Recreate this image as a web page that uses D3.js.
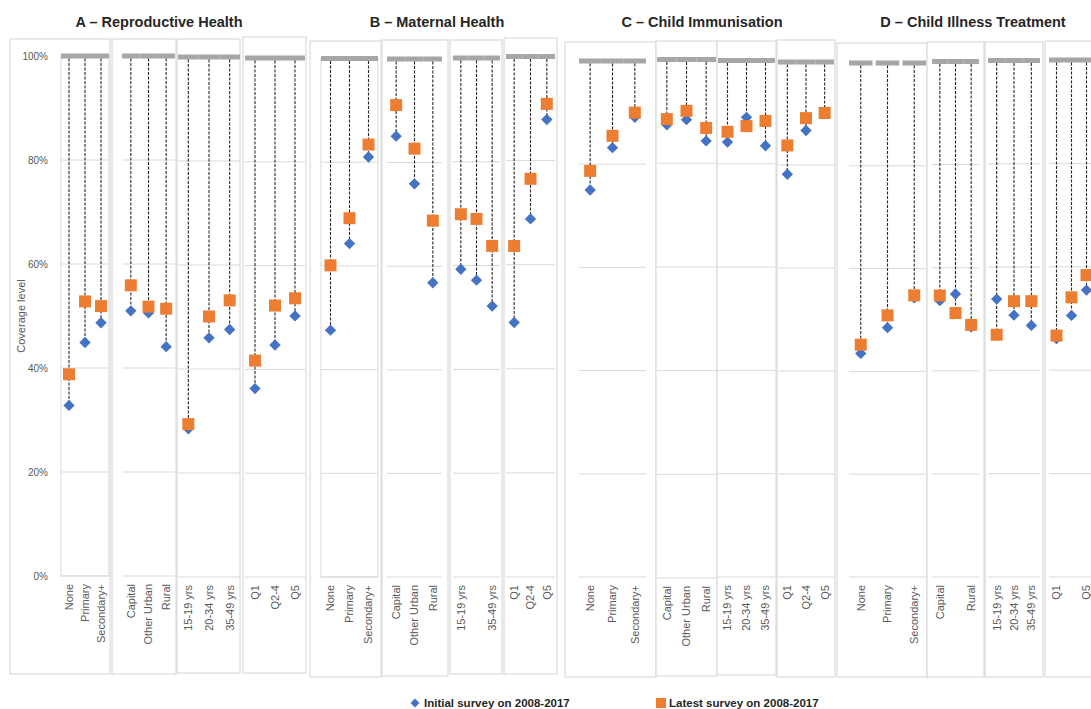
<!DOCTYPE html>
<html>
<head>
<meta charset="utf-8">
<script src="https://cdn.jsdelivr.net/npm/d3@7"></script>
<style>
  body { margin: 0; background: #fff; }
  svg text { font-family: "Liberation Sans", Arial, sans-serif; }
</style>
</head>
<body>
<svg id="chart" width="1091" height="709"></svg>
<script>
// categories of each small group
var education = ["None", "Primary", "Secondary+"];
var residence = ["Capital", "Other Urban", "Rural"];
var ageGroups = ["15-19 yrs", "20-34 yrs", "35-49 yrs"];
var wealth = ["Q1", "Q2-4", "Q5"];
var subgroups = [education, residence, ageGroups, wealth];

var panelTitles = [
  "A \u2013 Reproductive Health",
  "B \u2013 Maternal Health",
  "C \u2013 Child Immunisation",
  "D \u2013 Child Illness Treatment"
];

// coverage (%), order: education, residence, age, wealth
var initialA = [32.8, 44.9, 48.7, 51.0, 50.6, 44.1, 28.5, 46.0, 47.6, 36.3, 44.7, 50.3];
var latestA  = [38.8, 52.8, 51.9, 55.9, 51.8, 51.4, 29.4, 50.1, 53.2, 41.7, 52.3, 53.7];
var initialB = [47.6, 64.3, 81.0, 85.1, 75.9, 56.8, 59.3, 57.2, 52.2, 48.9, 68.8, 87.9];
var latestB  = [60.1, 69.2, 83.4, 91.1, 82.7, 68.8, 69.9, 69.0, 63.8, 63.6, 76.5, 90.9];
var initialC = [75.0, 83.2, 89.1, 87.4, 88.4, 84.3, 84.2, 89.0, 83.5, 78.2, 86.7, 90.0];
var latestC  = [78.7, 85.5, 90.0, 88.5, 90.1, 86.8, 86.2, 87.3, 88.3, 83.8, 89.1, 90.1];
var initialD = [43.5, 48.5, 54.3, 53.6, 54.9, 48.5, 53.8, 50.7, 48.7, 46.1, 50.6, 55.5];
var latestD  = [45.2, 50.9, 54.8, 54.6, 51.2, 48.9, 46.9, 53.4, 53.4, 46.7, 54.1, 58.4];

var initialAll = [initialA, initialB, initialC, initialD];
var latestAll = [latestA, latestB, latestC, latestD];

var benchmark = 100;
var yTicks = [0, 20, 40, 60, 80, 100];
// axis labels the original leaves out
var hiddenLabels = [[], ["20-34 yrs"], [], ["Other Urban", "Q2-4"]];

var legendLabels = ["Initial survey on  2008-2017", "Latest survey on  2008-2017"];

// layout of each small chart: box [x0,x1,top,bottom], plot [x0,x1], y [y0%, y100%]
var layout = [
  [
    { box: [10, 110, 39, 674], plot: [61, 109], y: [576, 56], frame: true },
    { box: [112, 176, 39, 674], plot: [122, 175], y: [576, 56] },
    { box: [177, 240, 39, 673], plot: [178, 240], y: [577, 57] },
    { box: [243, 306, 37, 673], plot: [245, 305], y: [577, 58] }
  ],
  [
    { box: [310, 381, 41, 677], plot: [321, 378], y: [577, 58.5], frame: true },
    { box: [382, 448, 40, 676], plot: [387, 442], y: [577, 59] },
    { box: [450, 502, 40, 674], plot: [453, 500], y: [577, 58] },
    { box: [504, 557, 38, 674], plot: [506, 555], y: [577, 56.5] }
  ],
  [
    { box: [565, 656, 42, 677], plot: [579, 646], y: [577, 61] },
    { box: [656, 717, 41, 676], plot: [657, 716], y: [578, 59.5] },
    { box: [717, 776, 41, 675], plot: [718, 775], y: [577, 60.5] },
    { box: [777, 835, 40, 677], plot: [778, 834], y: [577, 62] }
  ],
  [
    { box: [837, 927, 43, 677], plot: [849, 926], y: [577, 63], split: true },
    { box: [927, 984, 42, 677], plot: [932, 979], y: [577, 61.5] },
    { box: [985, 1043, 42, 677], plot: [988, 1040], y: [577, 60.5] },
    { box: [1045, 1100, 41, 677], plot: [1049, 1094], y: [577, 60] }
  ]
];
var titleX = [159, 437, 702, 973];

var blue = "#4472c4", orange = "#ed7d31";

var svg = d3.select("#chart");

var diamond = d3.symbol().type(d3.symbolSquare).size(64);
var square = d3.symbol().type(d3.symbolSquare).size(144);

panelTitles.forEach(function (title, p) {
  svg.append("text")
    .attr("x", titleX[p])
    .attr("y", 27)
    .attr("text-anchor", "middle")
    .style("font-size", "14.5px")
    .style("font-weight", "bold")
    .style("fill", "#262626")
    .text(title);

  layout[p].forEach(function (L, s) {
    var cats = subgroups[s];
    var g = svg.append("g");

    // outer box of each small chart
    g.append("rect")
      .attr("x", L.box[0]).attr("y", L.box[2])
      .attr("width", L.box[1] - L.box[0]).attr("height", L.box[3] - L.box[2])
      .attr("fill", "#fff")
      .attr("stroke", "#d4d4d4")
      .attr("stroke-width", 1);

    var x = d3.scaleBand().domain(cats).range(L.plot)
      .paddingInner(L.split ? 0.12 : 0).paddingOuter(0);
    var y = d3.scaleLinear().domain([0, 100]).range(L.y);
    var cx = function (c) { return x(c) + x.bandwidth() / 2; };

    // gridlines
    g.selectAll(".grid")
      .data(yTicks.filter(function (t) { return t < 100; }))
      .enter().append("line")
      .attr("x1", L.plot[0]).attr("x2", L.plot[1])
      .attr("y1", function (d) { return y(d); })
      .attr("y2", function (d) { return y(d); })
      .attr("stroke", "#d9d9d9").attr("stroke-width", 1);

    if (L.frame) {
      g.append("rect")
        .attr("x", L.plot[0]).attr("y", y(100))
        .attr("width", L.plot[1] - L.plot[0]).attr("height", y(0) - y(100))
        .attr("fill", "none").attr("stroke", "#d9d9d9");
    }

    var rows = cats.map(function (c, i) {
      return { cat: c, ini: initialAll[p][s * 3 + i], lat: latestAll[p][s * 3 + i] };
    });

    // 100% benchmark bar
    g.selectAll(".bench")
      .data(rows).enter().append("rect")
      .attr("x", function (d) { return x(d.cat); })
      .attr("width", x.bandwidth())
      .attr("y", y(benchmark) - 2.5)
      .attr("height", 5)
      .attr("fill", "#a6a6a6");

    // drop lines
    g.selectAll(".drop")
      .data(rows).enter().append("line")
      .attr("x1", function (d) { return cx(d.cat); })
      .attr("x2", function (d) { return cx(d.cat); })
      .attr("y1", y(benchmark) + 2.5)
      .attr("y2", function (d) { return y(Math.min(d.ini, d.lat)); })
      .attr("stroke", "#262626")
      .attr("stroke-width", 1.1)
      .attr("stroke-dasharray", "3,1.5");

    g.selectAll(".ini")
      .data(rows).enter().append("path")
      .attr("d", diamond)
      .attr("transform", function (d) {
        return "translate(" + cx(d.cat) + "," + y(d.ini) + ") rotate(45)";
      })
      .attr("fill", blue);

    g.selectAll(".lat")
      .data(rows).enter().append("path")
      .attr("d", square)
      .attr("transform", function (d) {
        return "translate(" + cx(d.cat) + "," + y(d.lat) + ")";
      })
      .attr("fill", orange);

    // category labels, rotated
    g.selectAll(".lbl")
      .data(cats.filter(function (c) { return hiddenLabels[p].indexOf(c) < 0; }))
      .enter().append("text")
      .attr("transform", function (c) {
        return "translate(" + cx(c) + "," + (y(0) + 8) + ") rotate(-90)";
      })
      .attr("dy", "0.35em")
      .attr("text-anchor", "end")
      .style("font-size", "11px")
      .style("fill", "#595959")
      .text(function (c) { return c; });

    // y axis only on the first chart
    if (p === 0 && s === 0) {
      var ax = g.append("g")
        .attr("transform", "translate(" + L.plot[0] + ",0)")
        .call(d3.axisLeft(y).tickValues(yTicks)
          .tickFormat(function (d) { return d + "%"; })
          .tickSize(0).tickPadding(13));
      ax.select(".domain").remove();
      ax.selectAll("text")
        .style("font-size", "10px")
        .style("fill", "#595959")
        .style("font-family", "'Liberation Sans', Arial, sans-serif");

      g.append("text")
        .attr("transform", "translate(21,316) rotate(-90)")
        .attr("text-anchor", "middle")
        .attr("dy", "0.35em")
        .style("font-size", "11px")
        .style("fill", "#595959")
        .text("Coverage level");
    }
  });
});

// legend
var legend = svg.append("g").attr("transform", "translate(0,703)");
legend.append("path")
  .attr("d", d3.symbol().type(d3.symbolSquare).size(40))
  .attr("transform", "translate(415,0) rotate(45)")
  .attr("fill", blue);
legend.append("text")
  .attr("x", 424).attr("dy", "0.35em")
  .style("font-size", "11.5px").style("font-weight", "bold").style("fill", "#262626")
  .text(legendLabels[0]);
legend.append("rect")
  .attr("x", 656).attr("y", -5).attr("width", 10).attr("height", 10)
  .attr("fill", orange);
legend.append("text")
  .attr("x", 669).attr("dy", "0.35em")
  .style("font-size", "11.5px").style("font-weight", "bold").style("fill", "#262626")
  .text(legendLabels[1]);
</script>
</body>
</html>
